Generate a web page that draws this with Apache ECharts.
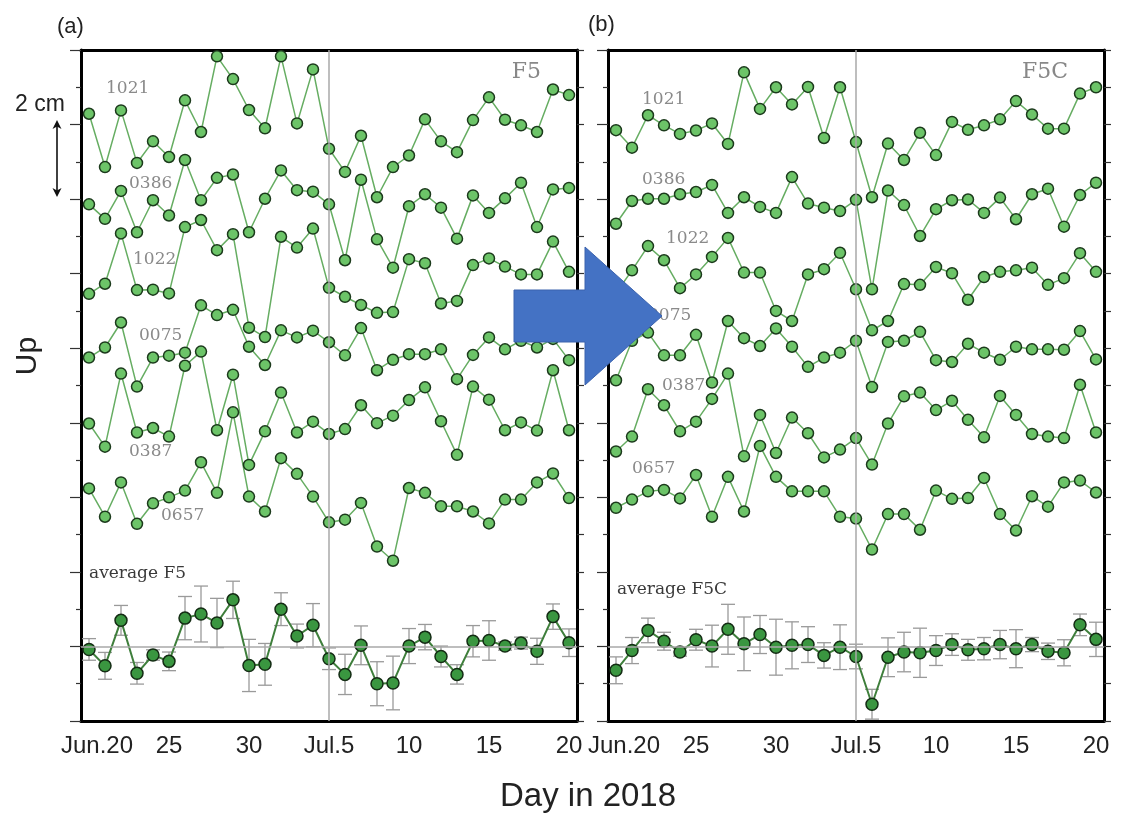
<!DOCTYPE html>
<html>
<head>
<meta charset="utf-8">
<script src="https://cdn.jsdelivr.net/npm/echarts@6/dist/echarts.min.js"></script>
<style>
html,body{margin:0;padding:0;background:#fff}
#main{width:1121px;height:814px}
</style>
</head>
<body>
<div id="main"></div>
<script>
// days Jun.20 - Jul.20, 2018
var days = ['6/20','6/21','6/22','6/23','6/24','6/25','6/26','6/27','6/28','6/29','6/30',
            '7/1','7/2','7/3','7/4','7/5','7/6','7/7','7/8','7/9','7/10',
            '7/11','7/12','7/13','7/14','7/15','7/16','7/17','7/18','7/19','7/20'];
var xTickLabels = ['Jun.20','25','30','Jul.5','10','15','20'];

// panel (a) F5, up displacement in cm (stations stacked with offsets)
var f5_1021 = [14.29,12.86,14.38,12.97,13.55,13.13,14.65,13.80,15.83,15.22,14.39,13.90,15.83,14.03,15.48,13.35,12.73,13.70,12.05,12.86,13.17,14.14,13.55,13.26,14.12,14.73,14.13,13.98,13.80,14.94,14.79];
var f5_0386 = [11.86,11.47,12.22,11.11,11.97,11.56,13.05,11.97,12.57,12.66,11.11,12.01,12.77,12.24,12.20,11.86,10.36,12.52,10.92,10.16,11.81,12.13,11.77,10.94,12.10,11.63,12.02,12.44,11.25,12.26,12.30];
var f5_1022 = [9.46,9.73,11.08,9.56,9.57,9.47,11.25,11.44,10.63,11.06,8.55,8.30,10.99,10.70,11.21,9.62,9.38,9.16,8.95,8.97,10.39,10.28,9.20,9.27,10.23,10.41,10.19,9.98,9.98,10.86,10.05];
var f5_0075 = [7.75,8.02,8.69,6.97,7.75,7.80,7.88,9.15,8.89,9.03,8.04,7.55,8.48,8.29,8.47,8.16,7.81,8.54,7.41,7.69,7.84,7.84,7.97,7.17,7.82,8.29,7.97,8.20,8.02,8.25,7.68];
var f5_0387 = [5.98,5.36,7.32,5.74,5.86,5.63,7.53,7.91,5.80,7.29,4.87,5.77,6.81,5.74,6.03,5.70,5.83,6.47,5.99,6.19,6.61,6.95,6.04,5.14,6.97,6.62,5.80,6.01,5.79,7.41,5.80];
var f5_0657 = [4.24,3.48,4.40,3.29,3.84,4.00,4.18,4.94,4.12,6.28,4.02,3.62,5.05,4.63,4.02,3.33,3.40,3.85,2.68,2.30,4.25,4.12,3.76,3.76,3.62,3.30,3.94,3.94,4.40,4.64,3.98];
var f5Avg = [-0.08,-0.52,0.70,-0.72,-0.23,-0.40,0.76,0.87,0.63,1.25,-0.51,-0.48,1.00,0.28,0.57,-0.33,-0.75,0.03,-1.00,-0.98,0.01,0.25,-0.27,-0.75,0.14,0.16,0.01,0.09,-0.13,0.80,0.10];
var f5Err = [0.29,0.36,0.40,0.29,0.14,0.25,0.58,0.75,0.66,0.50,0.70,0.56,0.44,0.32,0.58,0.29,0.54,0.52,0.59,0.72,0.47,0.34,0.28,0.26,0.42,0.53,0.11,0.16,0.35,0.34,0.37];

// panel (b) F5C
var f5c_1021 = [13.85,13.38,14.25,13.98,13.75,13.84,14.03,13.48,15.40,14.42,15.00,14.54,15.01,13.64,15.00,13.53,12.05,13.49,13.05,13.78,13.18,14.07,13.86,13.98,14.14,14.63,14.27,13.89,13.89,14.83,15.00];
var f5c_0386 = [11.34,11.95,12.01,12.01,12.13,12.19,12.38,11.63,12.05,11.79,11.63,12.59,11.88,11.77,11.68,11.98,9.58,12.23,11.84,11.01,11.73,11.97,11.99,11.63,12.04,11.46,12.13,12.28,11.26,12.11,12.44];
var f5c_1022 = [9.48,10.09,10.74,10.36,9.61,9.98,10.45,10.96,10.03,10.03,9.00,8.73,9.98,10.12,10.56,9.58,8.48,8.73,9.72,9.70,10.18,10.01,9.30,9.91,10.05,10.09,10.16,9.70,9.88,10.55,10.05];
var f5c_0075 = [7.14,8.20,8.42,7.81,7.81,8.36,7.08,8.73,8.27,8.06,8.53,8.04,7.50,7.75,7.88,8.20,6.96,8.17,8.20,8.44,7.68,7.63,8.12,7.88,7.69,8.04,7.97,7.97,7.96,8.46,7.70];
var f5c_0387 = [5.23,5.63,6.90,6.47,5.77,6.03,6.64,7.32,5.10,6.21,5.19,6.14,5.72,5.07,5.28,5.59,4.88,5.98,6.71,6.81,6.34,6.59,6.08,5.61,6.72,6.21,5.70,5.63,5.59,7.02,5.74];
var f5c_0657 = [3.72,3.94,4.16,4.20,3.97,4.60,3.48,4.55,3.62,5.38,4.55,4.16,4.16,4.16,3.48,3.43,2.60,3.55,3.55,3.13,4.18,3.96,3.98,4.52,3.55,3.11,4.03,3.75,4.40,4.45,4.13];
var f5cAvg = [-0.64,-0.11,0.43,0.14,-0.15,0.18,0.01,0.46,0.07,0.32,-0.02,0.03,0.05,-0.24,-0.02,-0.27,-1.55,-0.29,-0.15,-0.17,-0.11,0.05,-0.09,-0.06,0.05,-0.06,0.05,-0.13,-0.17,0.58,0.19];
var f5cErr = [0.36,0.35,0.33,0.24,0.11,0.28,0.56,0.67,0.72,0.51,0.75,0.63,0.48,0.34,0.60,0.33,0.40,0.52,0.53,0.66,0.40,0.29,0.28,0.30,0.38,0.51,0.19,0.22,0.35,0.29,0.46];

var chart = echarts.init(document.getElementById('main'));

var tickStyle = {color:'#333', width:1.2};
var frameStyle = {color:'#000', width:3};

function xAxes(g){
	var base = {gridIndex:g, type:'category', data:days, boundaryGap:true,
		splitLine:{show:false}, axisPointer:{show:false}};
	return [
		echarts.util.merge({position:'bottom', axisLine:{onZero:false, lineStyle:frameStyle},
			axisTick:{alignWithLabel:true, interval:0, length:6, lineStyle:tickStyle},
			axisLabel:{interval:4, margin:13, color:'#222', fontSize:24, fontFamily:'Liberation Sans',
				formatter:function(v, i){ return i === 0 ? '{j|' + xTickLabels[0] + '}' : xTickLabels[i/5]; },
				rich:{j:{fontSize:24, fontFamily:'Liberation Sans', color:'#222', padding:[0,0,0,16]}}}}, base, true),
		echarts.util.merge({position:'bottom', axisLine:{show:false, onZero:false},
			axisTick:{alignWithLabel:true, interval:4, length:11, lineStyle:tickStyle},
			axisLabel:{show:false}}, base, true),
		echarts.util.merge({position:'top', axisLine:{onZero:false, lineStyle:frameStyle},
			axisTick:{alignWithLabel:true, interval:0, length:6, lineStyle:tickStyle},
			axisLabel:{show:false}}, base, true),
		echarts.util.merge({position:'top', axisLine:{show:false, onZero:false},
			axisTick:{alignWithLabel:true, interval:4, length:12, lineStyle:tickStyle},
			axisLabel:{show:false}}, base, true)
	];
}
function yAxes(g){
	return [
		{gridIndex:g, type:'value', min:-2, max:16, interval:2, position:'left',
			axisLine:{show:true, onZero:false, lineStyle:frameStyle},
			axisTick:{show:true, length:11, lineStyle:tickStyle},
			minorTick:{show:true, splitNumber:2, length:5, lineStyle:tickStyle},
			axisLabel:{show:false}, splitLine:{show:false}},
		{gridIndex:g, type:'value', min:-2, max:16, interval:2, position:'right',
			axisLine:{show:true, onZero:false, lineStyle:frameStyle},
			axisTick:{show:true, length:7, lineStyle:tickStyle},
			minorTick:{show:true, splitNumber:2, length:7, lineStyle:tickStyle},
			axisLabel:{show:false}, splitLine:{show:false}}
	];
}

function stationSeries(data, g){
	return {type:'line', xAxisIndex:g*4, yAxisIndex:g*2, data:data,
		symbol:'circle', symbolSize:11, showAllSymbol:true, z:3, silent:true,
		lineStyle:{color:'#66ad62', width:1.5},
		itemStyle:{color:'#6cc468', borderColor:'#1c3a1c', borderWidth:1.5}};
}
function avgSeries(data, g){
	return {type:'line', xAxisIndex:g*4, yAxisIndex:g*2, data:data,
		symbol:'circle', symbolSize:12, showAllSymbol:true, z:4, silent:true,
		lineStyle:{color:'#3f7f3c', width:2},
		itemStyle:{color:'#3a9640', borderColor:'#142c14', borderWidth:1.5}};
}
function errSeries(avg, err, g){
	return {type:'custom', xAxisIndex:g*4, yAxisIndex:g*2, z:2, silent:true,
		data:avg.map(function(v, i){ return [i, v, err[i]]; }),
		encode:{x:0, y:1},
		renderItem:function(params, api){
			var x = api.value(0), y = api.value(1), e = api.value(2);
			var top = api.coord([x, y + e]), bot = api.coord([x, y - e]);
			var hw = 7, st = {stroke:'#9a9a9a', lineWidth:1.3};
			return {type:'group', children:[
				{type:'line', shape:{x1:top[0], y1:top[1], x2:bot[0], y2:bot[1]}, style:st},
				{type:'line', shape:{x1:top[0]-hw, y1:top[1], x2:top[0]+hw, y2:top[1]}, style:st},
				{type:'line', shape:{x1:bot[0]-hw, y1:bot[1], x2:bot[0]+hw, y2:bot[1]}, style:st}
			]};
		},
		markLine:{silent:true, symbol:['none','none'], label:{show:false},
			lineStyle:{color:'#a8a8a8', width:1.5, type:'solid'},
			data:[{yAxis:0}, {xAxis:days[15]}]}
	};
}

function txt(x, y, s, size, color, family, align){
	return {type:'text', x:x, y:y, z:50,
		style:{text:s, fontSize:size, fontFamily:family || 'DejaVu Serif', fill:color,
			textAlign:align || 'left', textVerticalAlign:'middle'}};
}

var serif = 'DejaVu Serif', sans = 'Liberation Sans';
var stationColor = '#8a8a8a';

var option = {
	animation:false,
	grid:[
		{left:81, top:50, width:496, height:671},
		{left:608, top:50, width:496, height:671}
	],
	xAxis: xAxes(0).concat(xAxes(1)),
	yAxis: yAxes(0).concat(yAxes(1)),
	series:[
		errSeries(f5Avg, f5Err, 0),
		stationSeries(f5_1021, 0), stationSeries(f5_0386, 0), stationSeries(f5_1022, 0),
		stationSeries(f5_0075, 0), stationSeries(f5_0387, 0), stationSeries(f5_0657, 0),
		avgSeries(f5Avg, 0),
		errSeries(f5cAvg, f5cErr, 1),
		stationSeries(f5c_1021, 1), stationSeries(f5c_0386, 1), stationSeries(f5c_1022, 1),
		stationSeries(f5c_0075, 1), stationSeries(f5c_0387, 1), stationSeries(f5c_0657, 1),
		avgSeries(f5cAvg, 1)
	],
	graphic:[
		txt(57, 27, '(a)', 22, '#222', sans),
		txt(588, 25, '(b)', 22, '#222', sans),
		txt(541, 72, 'F5', 22, '#888', serif, 'right'),
		txt(1068, 72, 'F5C', 22, '#888', serif, 'right'),
		// station labels
		txt(106, 89, '1021', 17, stationColor),
		txt(129, 184, '0386', 17, stationColor),
		txt(133, 260, '1022', 17, stationColor),
		txt(139, 336, '0075', 17, stationColor),
		txt(129, 452, '0387', 17, stationColor),
		txt(161, 516, '0657', 17, stationColor),
		txt(89, 574, 'average F5', 17, '#3a3a3a'),
		txt(642, 100, '1021', 17, stationColor),
		txt(642, 180, '0386', 17, stationColor),
		txt(666, 239, '1022', 17, stationColor),
		txt(648, 316, '0075', 17, stationColor),
		txt(662, 386, '0387', 17, stationColor),
		txt(632, 469, '0657', 17, stationColor),
		txt(617, 590, 'average F5C', 17, '#3a3a3a'),
		// axis titles
		{type:'text', x:28, y:356, rotation:Math.PI/2, z:50,
			style:{text:'Up', fontSize:30, fontFamily:sans, fill:'#222', textAlign:'center', textVerticalAlign:'middle'}},
		txt(588, 797, 'Day in 2018', 33, '#222', sans, 'center'),
		// 2 cm scale
		txt(40, 105, '2 cm', 23, '#222', sans, 'center'),
		{type:'line', z:50, shape:{x1:57, y1:122, x2:57, y2:195}, style:{stroke:'#111', lineWidth:1.6}},
		{type:'polygon', z:50, shape:{points:[[57,120],[52.5,129],[57,126.5],[61.5,129]]}, style:{fill:'#111'}},
		{type:'polygon', z:50, shape:{points:[[57,197],[52.5,188],[57,190.5],[61.5,188]]}, style:{fill:'#111'}},
		// big blue arrow between panels
		{type:'polygon', z:60,
			shape:{points:[[514,290],[585,290],[585,247],[662,316],[585,385],[585,342],[514,342]]},
			style:{fill:'#4472c4', stroke:'#3a62ad', lineWidth:1}}
	]
};
chart.setOption(option);
</script>
</body>
</html>
